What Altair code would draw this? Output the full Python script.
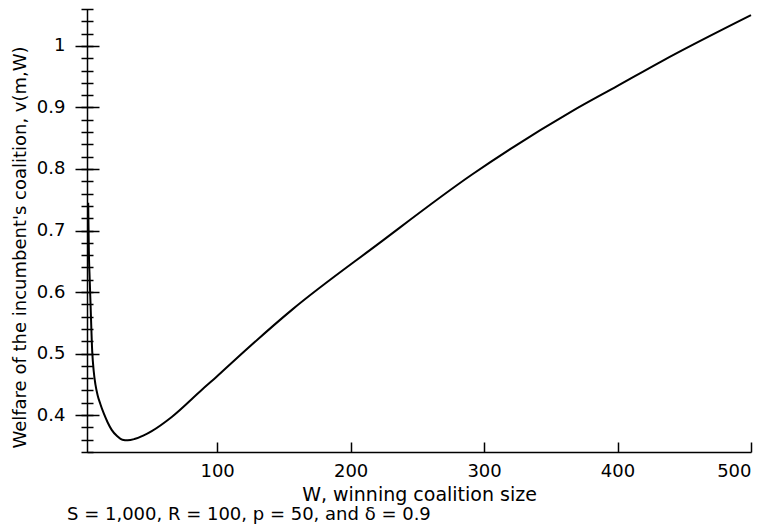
import altair as alt
import pandas as pd

# Curve
W = [3.4, 3.9, 4.5, 5.1, 6.4, 7.5, 8.8, 10.5, 12.5, 15, 18, 21, 25, 29, 33, 38,
     45, 51, 66, 89, 100, 111, 156, 220, 291, 366, 400, 433, 500]
V = [0.745, 0.665, 0.622, 0.584, 0.504, 0.472, 0.450, 0.432, 0.418, 0.403, 0.388,
     0.376, 0.366, 0.360, 0.359, 0.361, 0.367, 0.374, 0.397, 0.442, 0.463, 0.485,
     0.571, 0.677, 0.791, 0.894, 0.935, 0.975, 1.05]

x_major = [100, 200, 300, 400, 500]
y_major = [0.4, 0.5, 0.6, 0.7, 0.8, 0.9, 1.0]
y_minor = [round(0.34 + 0.02 * i, 2) for i in range(37)]

X_TITLE = "W, winning coalition size"
Y_TITLE = "Welfare of the incumbent's coalition, v(m,W)"
CAPTION = "S = 1,000, R = 100, p = 50, and δ = 0.9"

df = pd.DataFrame({"W": W, "v": V})

FONT = "DejaVu Sans"
LSIZE = 18
TSIZE = 19
xs = alt.Scale(domain=[2.5, 500], nice=False, zero=False)
ys = alt.Scale(domain=[0.34, 1.06], nice=False, zero=False)

main = alt.Chart(df).mark_line(color="black", strokeWidth=2, interpolate="monotone").encode(
    x=alt.X("W:Q", scale=xs, axis=alt.Axis(
        orient="bottom", values=x_major, ticks=False, tickSize=0, domain=True,
        domainColor="black", domainWidth=1.5, labelPadding=10, labelFontSize=LSIZE,
        labelFont=FONT, labelColor="black", title=X_TITLE, titleFont=FONT,
        titleFontSize=TSIZE, titleFontWeight="normal", titleColor="black", titlePadding=5)),
    y=alt.Y("v:Q", scale=ys, axis=alt.Axis(
        orient="left", values=y_major, format="~g", ticks=False, tickSize=0, domain=True,
        domainColor="black", domainWidth=1.5, labelPadding=22, labelFontSize=LSIZE,
        labelFont=FONT, labelColor="black", title=Y_TITLE, titleFont=FONT,
        titleFontSize=LSIZE, titleFontWeight="normal", titleColor="black", titlePadding=7,
        titleY=238)),
)

# y major ticks crossing the axis line
ymaj = alt.Chart(df).mark_line(strokeOpacity=0).encode(
    x=alt.X("W:Q", scale=xs, axis=None),
    y=alt.Y("v:Q", scale=ys, axis=alt.Axis(
        orient="left", values=y_major, offset=-12, tickSize=24, tickWidth=1.5,
        tickColor="black", domain=False, labels=False, title=None)),
)
# y minor ticks crossing the axis line
ymin = alt.Chart(df).mark_line(strokeOpacity=0).encode(
    x=alt.X("W:Q", scale=xs, axis=None),
    y=alt.Y("v:Q", scale=ys, axis=alt.Axis(
        orient="left", values=y_minor, offset=-6, tickSize=12, tickWidth=1.5,
        tickColor="black", domain=False, labels=False, title=None)),
)
# x ticks pointing inward
xin = alt.Chart(df).mark_line(strokeOpacity=0).encode(
    x=alt.X("W:Q", scale=xs, axis=alt.Axis(
        orient="bottom", values=x_major, offset=-10, tickSize=10, tickWidth=1.5,
        tickColor="black", domain=False, labels=False, title=None)),
    y=alt.Y("v:Q", scale=ys, axis=None),
)

chart = alt.layer(main, ymaj, ymin, xin).resolve_axis(
    x="independent", y="independent"
).properties(
    width=664, height=443,
    padding={"left": 3, "top": 0, "right": 0, "bottom": 0},
    title=alt.TitleParams(CAPTION, orient="bottom", anchor="start", frame="group",
                          dx=-20, offset=2, font=FONT, fontSize=LSIZE,
                          fontWeight="normal", color="black"),
).configure_axis(grid=False).configure_view(stroke=None)

chart.save("out.html", embed_options={"renderer": "svg", "actions": False})
